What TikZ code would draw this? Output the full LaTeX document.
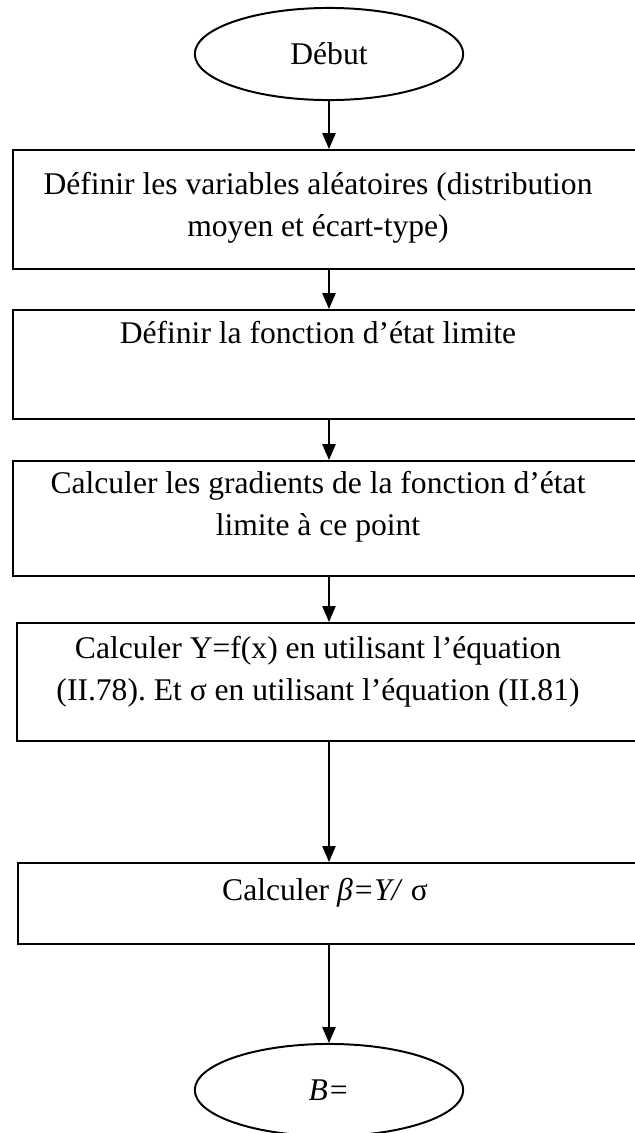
\documentclass[tikz,border=0pt]{standalone}
\usepackage{fontspec}
\setmainfont{Liberation Serif}
\usetikzlibrary{shapes.geometric,arrows.meta}

\tikzset{
  stepbox/.style={draw,line width=0.75pt,inner sep=0pt,anchor=north west,minimum width=238pt},
  endpoint/.style={draw,ellipse,line width=0.75pt,inner sep=0pt,minimum width=102pt,minimum height=35pt},
  steptext/.style={align=center,anchor=base,inner sep=0pt},
  flow/.style={line width=0.6pt,-{Triangle[length=6pt,width=5pt]}}
}
\frenchspacing

\begin{document}
\begin{tikzpicture}[x=0.38pt,y=-0.38pt]
    \useasboundingbox (0,0) rectangle (635,1133);
    \fontsize{12}{15.6}\selectfont
    % start / end
    \node[endpoint] (start) at (329,54) {};
    \node at (329,64) [anchor=base] {Début};
    % steps
    \node[stepbox,minimum height=45.2pt] (b1) at (12,149) {};
    \node[steptext] (t1) at (318,236) {Définir les variables aléatoires (distribution\\moyen et écart-type)};
    \node[stepbox,minimum height=41.4pt] (b2) at (12,309) {};
    \node[steptext] (t2) at (318,343) {Définir la fonction d’état limite};
    \node[stepbox,minimum height=43.7pt] (b3) at (12,460) {};
    \node[steptext] (t3) at (318,535) {Calculer les gradients de la fonction d’état\\limite à ce point};
    \node[stepbox,minimum height=44.8pt] (b4) at (16,622) {};
    \node[steptext] (t4) at (318,700) {Calculer Y=f(x) en utilisant l’équation\\(II.78). Et σ en utilisant l’équation (II.81)};
    \node[stepbox,minimum height=30.8pt] (b5) at (17,862) {};
    \node[steptext] (t5) at (325,900) {Calculer \textit{β=Y/}~σ};
    \node[endpoint] (stop) at (329,1090) {};
    \node at (329,1100) [anchor=base] {\textit{B=}};
    % arrows
    \draw[flow] (start.south) -- (start.south |- b1.north);
    \draw[flow] (start.south |- b1.south) -- (start.south |- b2.north);
    \draw[flow] (start.south |- b2.south) -- (start.south |- b3.north);
    \draw[flow] (start.south |- b3.south) -- (start.south |- b4.north);
    \draw[flow] (start.south |- b4.south) -- (start.south |- b5.north);
    \draw[flow] (start.south |- b5.south) -- (stop.north);
\end{tikzpicture}
\end{document}
